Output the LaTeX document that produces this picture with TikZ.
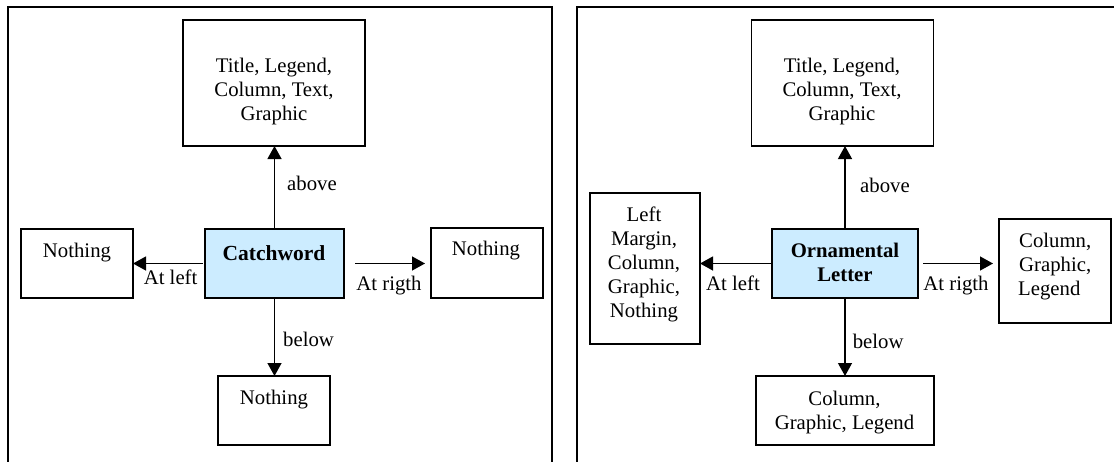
\documentclass[tikz,border=0pt]{standalone}
\usepackage{fontspec}
\setmainfont{Liberation Serif}
\usetikzlibrary{arrows.meta}
\definecolor{cwblue}{HTML}{CCECFF}
\begin{document}
\begin{tikzpicture}[x=1pt,y=-1pt,
  box/.style={draw,line width=1.7pt,inner sep=0pt,outer sep=0pt},
  hbox/.style={box,fill=cwblue},
  txt/.style={inner sep=0pt,align=center,anchor=base,font=\fontsize{20.75pt}{24pt}\selectfont},
  btxt/.style={txt,font=\fontsize{21.5pt}{24pt}\selectfont\bfseries},
  arr/.style={line width=1.3pt,-{Triangle[length=13pt,width=14pt]}},
  frame/.style={line width=1.8pt}]
\clip (0,0) rectangle (1114,461);
\useasboundingbox (0,0) rectangle (1114,461);
% frames (open at bottom)
\draw[frame] (8,480) -- (8,7) -- (552,7) -- (552,480);
\draw[frame] (577,480) -- (577,7) -- (1130,7);

% ---------------- left panel ----------------
\node[box,minimum width=182pt,minimum height=126pt] (lt) at (274,83) {};
\node[hbox,minimum width=139pt,minimum height=69pt] (cw) at (274.5,263.5) {};
\node[box,minimum width=112pt,minimum height=69pt] (ln) at (77,263.5) {};
\node[box,minimum width=112pt,minimum height=70pt] (rn) at (487,263) {};
\node[box,minimum width=112pt,minimum height=69pt] (bn) at (274,410.5) {};

% multi-line nodes: anchor base = baseline of last line
\node[txt] (ltt) at (274,120) {Title, Legend,\\Column, Text,\\Graphic};
\node[btxt] (cwt) at (274,260) {Catchword};
\node[txt] (lnt) at (77,257) {Nothing};
\node[txt] (rnt) at (486,255.5) {Nothing};
\node[txt] (bnt) at (274,404) {Nothing};

\draw[arr] (cw.north) -- (cw.north |- lt.south);
\draw[arr] (cw.south) -- (cw.south |- bn.north);
\draw[arr] ([xshift=-2.5pt]cw.west) -- (cw.west -| ln.east);
\draw[arr] ([xshift=11pt]cw.east) -- ([xshift=-6pt]cw.east -| rn.west);

\node[txt,anchor=base west] (la1) at (287,190.7) {above};
\node[txt] (la2) at (170.6,284.4) {At left};
\node[txt] (la3) at (389,290) {At rigth};
\node[txt,anchor=base west] (la4) at (283,346.7) {below};

% ---------------- right panel ----------------
\node[box,minimum width=182pt,minimum height=126pt] (rt) at (842.5,83) {};
\node[hbox,minimum width=146pt,minimum height=69pt] (ol) at (845,263.5) {};
\node[box,minimum width=110pt,minimum height=151pt] (lb) at (645,268.5) {};
\node[box,minimum width=112pt,minimum height=104pt] (rb) at (1055,271) {};
\node[box,minimum width=178pt,minimum height=69pt] (bb) at (845,410.5) {};

\node[txt] (rtt) at (842,120) {Title, Legend,\\Column, Text,\\Graphic};
\node[txt,font=\fontsize{20.75pt}{24pt}\selectfont\bfseries] (olt) at (845,281) {Ornamental\\Letter};
\node[txt] (lbt) at (644,317) {Left\\Margin,\\Column,\\Graphic,\\Nothing};
\node[txt,align=left,anchor=base west] (rbt) at (1018,295) {\hspace{1pt}Column,\\\hspace{1pt}Graphic,\\Legend};
\node[txt] (bbt) at (844.5,429) {Column,\\Graphic, Legend};

\draw[arr] (ol.north) -- (ol.north |- rt.south);
\draw[arr] (ol.south) -- (ol.south |- bb.north);
\draw[arr] ([xshift=-1pt]ol.west) -- (ol.west -| lb.east);
\draw[arr] ([xshift=5pt]ol.east) -- ([xshift=-6pt]ol.east -| rb.west);

\node[txt,anchor=base west] (ra1) at (860,192.7) {above};
\node[txt] (ra2) at (733,290.4) {At left};
\node[txt] (ra3) at (956,290.4) {At rigth};
\node[txt,anchor=base west] (ra4) at (852.6,348.5) {below};
\end{tikzpicture}
\end{document}
